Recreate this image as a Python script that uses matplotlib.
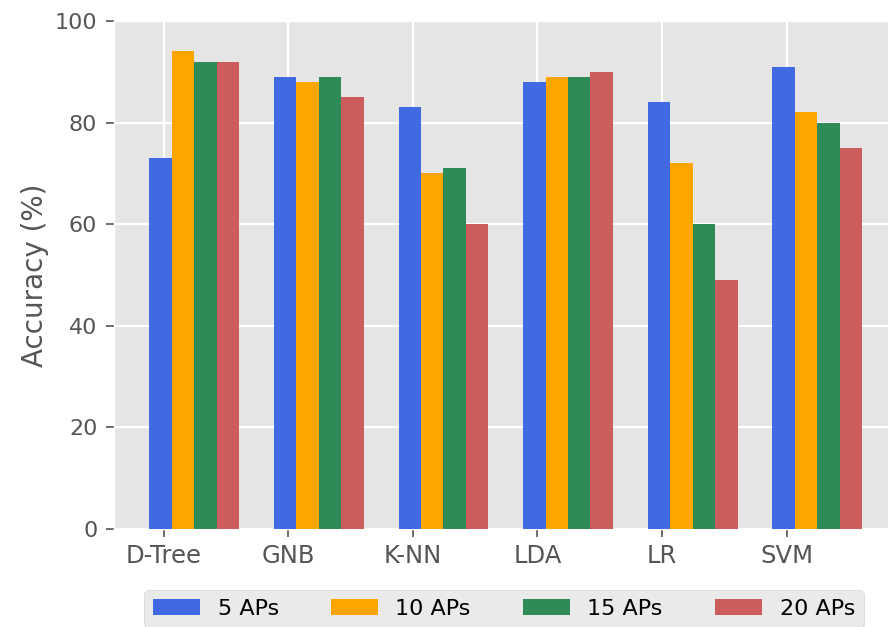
import numpy as np
import matplotlib
matplotlib.use('Agg')
import matplotlib.pyplot as plt

plt.style.use('ggplot')

classifiers = ['D-Tree', 'GNB', 'K-NN', 'LDA', 'LR', 'SVM']
aps_5 = [73, 89, 83, 88, 84, 91]
aps_10 = [94, 88, 70, 89, 72, 82]
aps_15 = [92, 89, 71, 89, 60, 80]
aps_20 = [92, 85, 60, 90, 49, 75]

series = [aps_5, aps_10, aps_15, aps_20]
labels = ['5 APs', '10 APs', '15 APs', '20 APs']
colors = ['royalblue', 'orange', 'seagreen', 'indianred']

fig = plt.figure(figsize=(8.88, 6.27), dpi=100)
ax = fig.add_axes([114 / 888, 98 / 627, (897 - 114) / 888, 508 / 627])

x = np.arange(len(classifiers))
w = 0.18
for k, (vals, lab, col) in enumerate(zip(series, labels, colors)):
    ax.bar(x - 0.024 + k * w, vals, width=w, color=col, label=lab, zorder=3)

ax.grid(True, color='white', linewidth=1.6, zorder=0)
ax.set_xticks(x)
ax.set_xticklabels(classifiers)
ax.set_yticks(range(0, 101, 20))
ax.tick_params(axis='both', direction='out', length=6,
               width=1.2, color='#555555', pad=6)
ax.tick_params(axis='x', labelsize=17.5, pad=5)
ax.tick_params(axis='y', labelsize=16)
ax.set_ylim(0, 100)
ax.set_xlim(-0.398, 5.886)
ax.set_ylabel('Accuracy (%)', fontsize=20, color='#555555')

fig.legend(loc='upper center', bbox_to_anchor=(504 / 888, 48 / 627), ncol=4,
           fontsize=16, handlelength=2.1, columnspacing=2.35, handleheight=0.75)

fig.savefig('out.png', dpi=100)
